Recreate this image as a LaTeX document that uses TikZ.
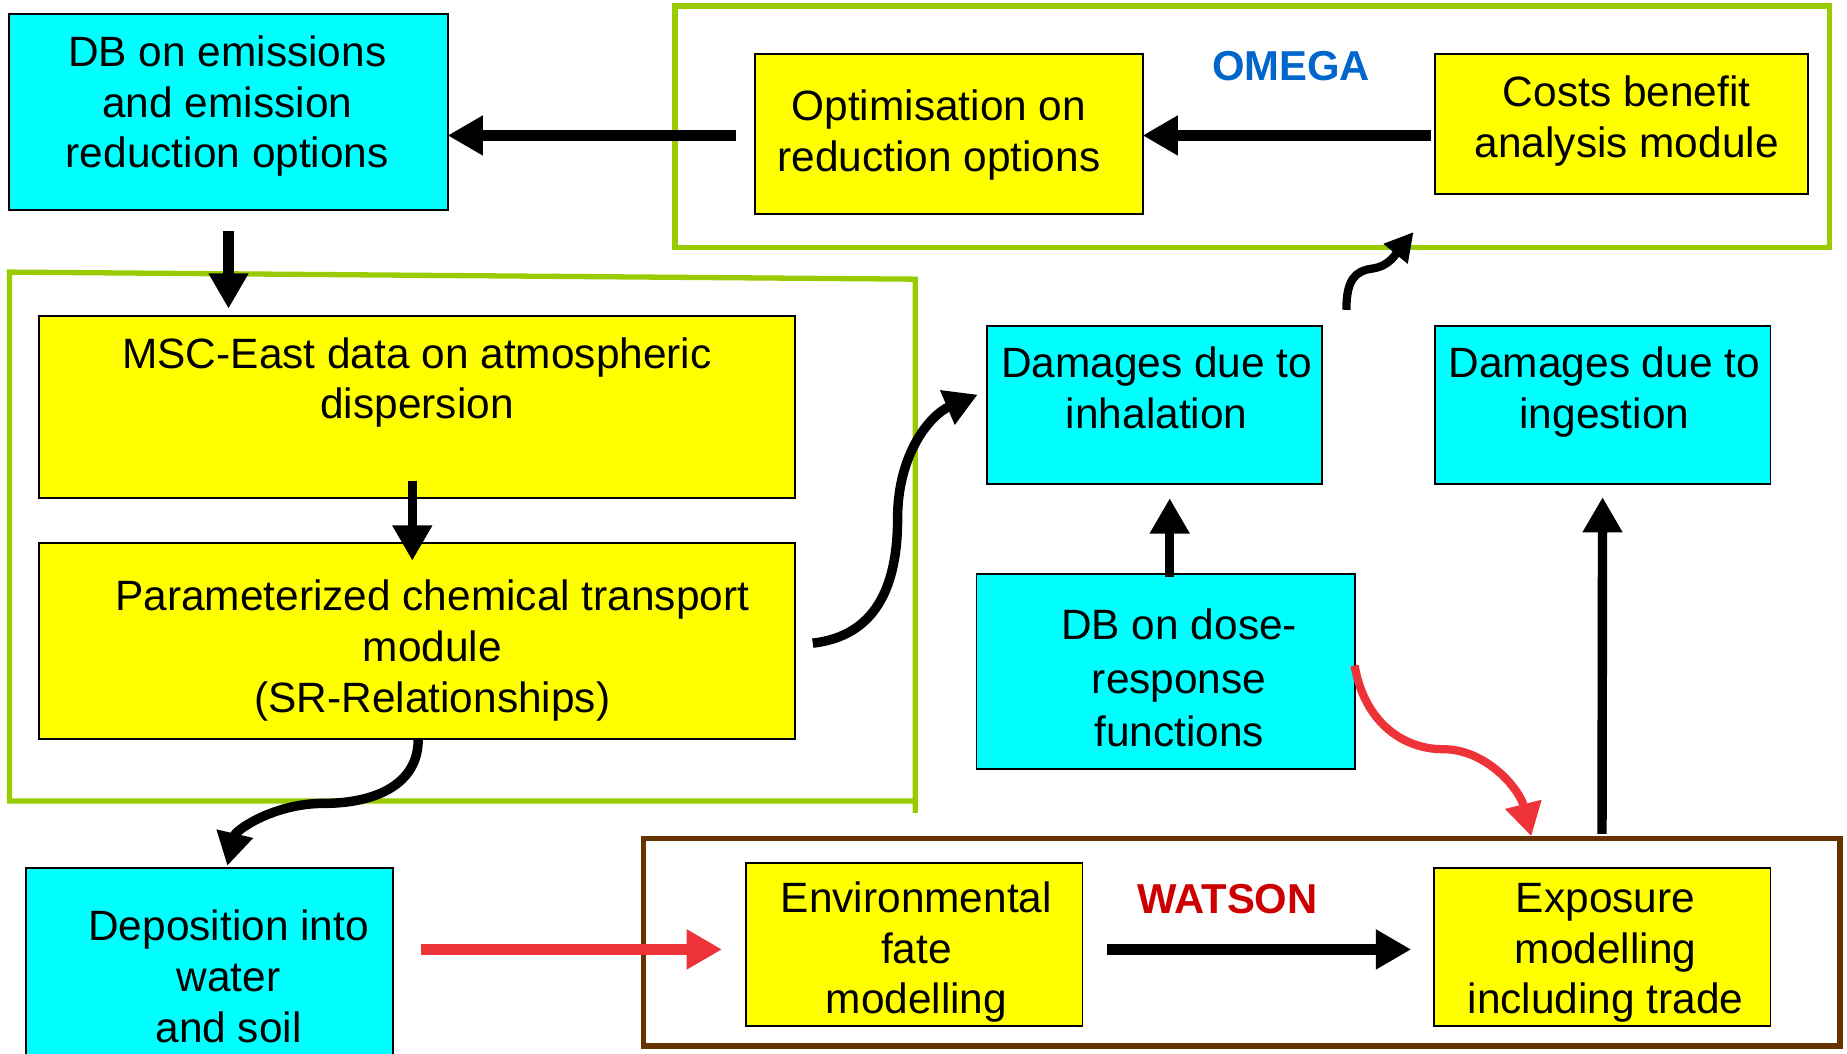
\documentclass[tikz,border=0pt]{standalone}
\usepackage{fontspec}
\setmainfont{Liberation Sans}
\usetikzlibrary{arrows.meta,calc,fit}
\definecolor{boxcyan}{HTML}{00FFFF}
\definecolor{boxyellow}{HTML}{FFFF00}
\definecolor{framegreen}{HTML}{99CC00}
\definecolor{framebrown}{HTML}{663300}
\definecolor{arrred}{HTML}{EE3338}
\definecolor{omegablue}{HTML}{0066CC}
\definecolor{watsonred}{HTML}{CC0000}
\begin{document}
\begin{tikzpicture}[x=1pt,y=-1pt,
  box/.style={draw=black, line width=1.6pt, inner sep=0pt, outer sep=0pt},
  cbox/.style={box, fill=boxcyan},
  ybox/.style={box, fill=boxyellow},
  txt/.style={align=center, inner sep=0pt, font=\fontsize{36}{43}\selectfont},
  lbl/.style={inner sep=0pt, font=\fontsize{35.5}{40}\selectfont\bfseries},
  frm/.style={line width=4.5pt, inner sep=0pt, outer sep=0pt},
  arr/.style={line width=9pt, -{Triangle[length=30pt,width=32pt]}},
  carr/.style={line width=8pt, -{Triangle[length=28pt,width=30pt]}},
]
\useasboundingbox (0,0) rectangle (1568,894);

% frames
\node[frm, draw=framegreen, fit={(573,5) (1553,210)}] (omega) {};
\node[frm, draw=framebrown, fit={(546,712) (1562,888)}] (watson) {};
\draw[framegreen, line width=4.5pt] (777,690) -- (777,237) -- (8,231) -- (8,680) -- (777,680);

% boxes
\node[cbox, fit={(8,12) (380,178)}] (db) {};
\node[ybox, fit={(641,46) (970,182)}] (opt) {};
\node[ybox, fit={(1218,46) (1535,165)}] (cba) {};
\node[ybox, fit={(33,268) (675,423)}] (msc) {};
\node[ybox, fit={(33,461) (675,627)}] (par) {};
\node[cbox, fit={(838,277) (1122,411)}] (inh) {};
\node[cbox, fit={(1218,277) (1503,411)}] (ing) {};
\node[cbox, fit={(829,487) (1150,653)}] (dose) {};
\node[cbox, fit={(22,737) (334,910)}] (dep) {};
\node[ybox, fit={(633,733) (919,871)}] (env) {};
\node[ybox, fit={(1217,737) (1503,871)}] (exp) {};

% texts
\node[txt] (dbt) at (193,91) {\strut DB on emissions\\and emission\\reduction options\strut};
\node[txt] (optt) at (797,115.5) {\strut Optimisation on\\reduction options\strut};
\node[txt] (cbat) at (1381,103.5) {\strut Costs benefit\\analysis module\strut};
\node[txt] (msct) at (354,325.5) {\strut MSC-East data on atmospheric\\dispersion\strut};
\node[txt] (part) at (367,553) {\strut Parameterized chemical transport\\module\\(SR-Relationships)\strut};
\node[txt] (inht) at (982,333.5) {\strut Damages due to\\inhalation\strut};
\node[txt] (ingt) at (1362,333.5) {\strut Damages due to\\ingestion\strut};
\node[txt, font=\fontsize{36}{45.5}\selectfont] (doset) at (1001,579.5) {\strut DB on dose-\\response\\functions\strut};
\node[txt] (dept) at (194,833) {\strut Deposition into\\water\\and soil\strut};
\node[txt] (envt) at (778,809) {\strut Environmental\\fate\\modelling\strut};
\node[txt] (expt) at (1363,809) {\strut Exposure\\modelling\\including trade\strut};
\node[lbl, text=omegablue] (omegat) at (1096,56) {OMEGA};
\node[lbl, text=watsonred] (watsont) at (1042,763) {WATSON};

% arrows
\draw[arr] ($(opt.west)+(-16,1)$) -- ($(opt.west -| db.east)+(0,1)$);
\draw[arr] ($(cba.west |- opt.west)+(-3,1)$) -- ($(opt.east)+(0,1)$);
\draw[arr] ($(db.south)+(0,18)$) -- ($(db.south)+(0,84)$);
\draw[arr, line width=8pt] ($(msc.south)+(-4,-15)$) -- ($(par.north)+(-4,15)$);
\draw[carr] ($(par.east)+(15,2)$) .. controls (742,540) and (762,500) .. (762,440)
  .. controls (762,385) and (790,352) .. ($(inh.west)+(-8,-9)$);
\draw[carr, line width=7pt, -{Triangle[length=24pt,width=25pt]}] ($(inh.north east)+(21,-14)$)
  .. controls (1143,238) and (1150,230) .. (1165,228)
  .. controls (1180,226) and (1186,214) .. ($(omega.south)+(137,-13)$);
\draw[arr, line width=8pt] ($(dose.north)+(3.5,3)$) -- ($(inh.south)+(13,12)$);
\draw[carr, arrred, line width=7pt] ($(dose.east)+(0,-5)$) .. controls (1158,612) and (1190,636) .. (1225,636)
  .. controls (1262,636) and (1290,670) .. ($(watson.north)+(246,-2)$);
\draw[arr, line width=8pt] ($(watson.north)+(306,-4)$) -- ($(ing.south)+(0,11)$);
\draw[arr] ($(env.east)+(21,4)$) -- ($(exp.west)+(-19,2)$);
\draw[arr, arrred] ($(env.west -| dep.east)+(23,4)$) -- ($(env.west)+(-20,4)$);
\draw[carr] ($(par.south)+(1,1)$) .. controls (355,665) and (320,682) .. (275,682)
  .. controls (232,682) and (200,705) .. ($(dep.north)+(15,-2)$);
\end{tikzpicture}
\end{document}
